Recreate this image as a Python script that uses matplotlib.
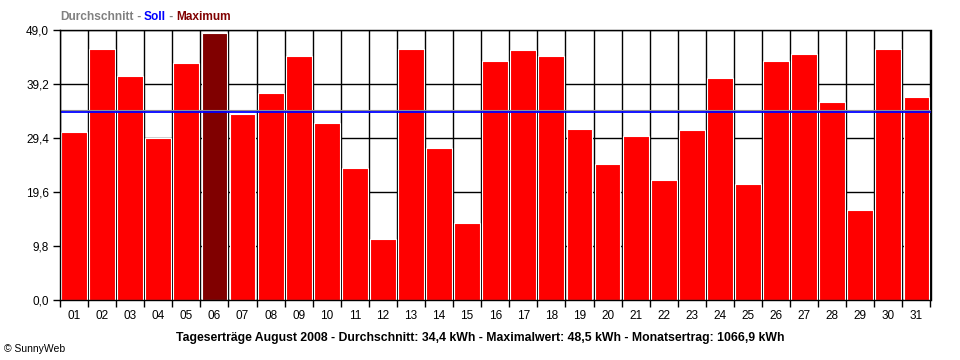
import numpy as np
import matplotlib
matplotlib.use("Agg")
import matplotlib.pyplot as plt

days = ["01", "02", "03", "04", "05", "06", "07", "08", "09", "10", "11",
        "12", "13", "14", "15", "16", "17", "18", "19", "20", "21", "22",
        "23", "24", "25", "26", "27", "28", "29", "30", "31"]
ertrag = [30.5, 45.6, 40.7, 29.4, 43.1, 48.5, 33.8, 37.6, 44.3, 32.2, 24.0,
          11.1, 45.6, 27.5, 14.0, 43.3, 45.4, 44.2, 31.1, 24.7, 29.8, 21.7,
          30.9, 40.3, 21.1, 43.3, 44.7, 36.0, 16.4, 45.6, 36.9]
durchschnitt = 34.4
soll = 34.2
yticks = [0.0, 9.8, 19.6, 29.4, 39.2, 49.0]

plt.rcParams['font.family'] = ['Liberation Sans', 'DejaVu Sans']

fig = plt.figure(figsize=(9.6, 3.6), dpi=100)
ax = fig.add_axes([60 / 960, 1 - 300 / 360, 870.5 / 960, 270 / 360])

x = np.arange(len(days))
imax = int(np.argmax(ertrag))
colors = ['#800000' if i == imax else '#ff0000' for i in range(len(days))]

ax.bar(x, ertrag, width=0.92, color=colors, edgecolor='white', linewidth=0.8, zorder=2)
ax.axhline(durchschnitt, color='#909090', lw=0.8, zorder=3)
ax.axhline(soll, color='#0000ff', lw=1.3, zorder=4)

ax.set_xlim(-0.5, len(days) - 0.5)
ax.set_ylim(0, 49.0)

# grid on slot boundaries
ax.set_xticks(np.arange(len(days) + 1) - 0.5)
ax.set_xticklabels([])
ax.set_xticks(x, minor=True)
ax.set_xticklabels(days, minor=True, fontsize=8.5)
ax.tick_params(axis='x', which='minor', length=0, pad=7)
ax.tick_params(axis='x', which='major', length=5, width=1, direction='out')
ax.set_yticks(yticks)
ax.set_yticklabels([f"{v:.1f}".replace('.', ',') for v in yticks], fontsize=8.5)
ax.tick_params(axis='y', length=5, width=1, direction='out', pad=3)
ax.grid(True, which='major', color='black', lw=1, zorder=0)
ax.set_axisbelow(True)
for s in ax.spines.values():
    s.set_linewidth(1)
    s.set_zorder(5)

# colored header
renderer = fig.canvas.get_renderer()
parts = [("Durchschnitt", '#808080'), (" - ", '#808080'), ("Soll", '#0000ff'),
         (" - ", '#808080'), ("Maximum", '#800000')]
xpos = 60 / 960
for txt, c in parts:
    t = fig.text(xpos, 1 - 17 / 360, txt, color=c, fontsize=8.6, fontweight='bold',
                 va='center', ha='left')
    bb = t.get_window_extent(renderer=renderer)
    xpos += bb.width / 960

fig.text(480 / 960, 1 - 338 / 360,
         "Tageserträge August 2008 - Durchschnitt: 34,4 kWh - Maximalwert: 48,5 kWh - Monatsertrag: 1066,9 kWh",
         ha='center', va='center', fontsize=8.8, fontweight='bold')
fig.text(4 / 960, 1 - 349 / 360, "© SunnyWeb", ha='left', va='center', fontsize=7.5)

fig.savefig("out.png", dpi=100)
